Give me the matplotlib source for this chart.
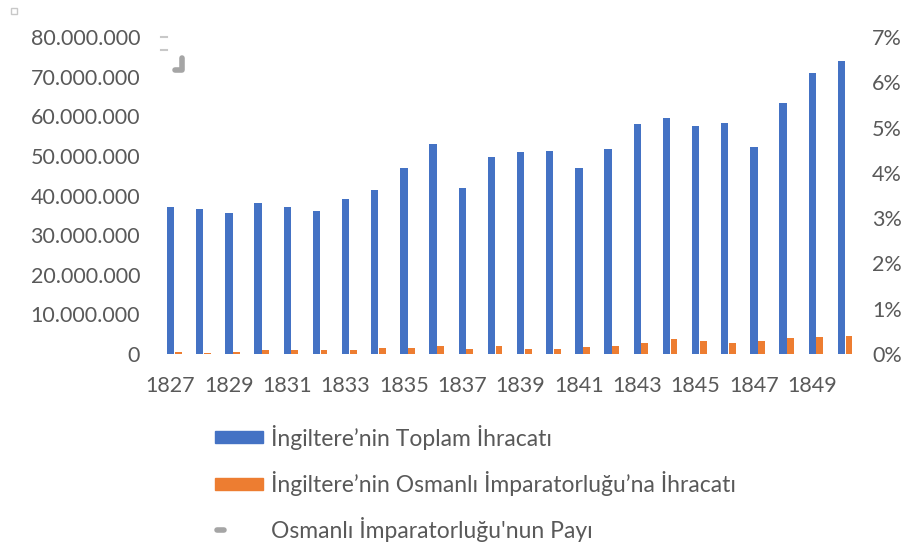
import numpy as np
import matplotlib.pyplot as plt
import matplotlib.patches as patches
from matplotlib.ticker import FuncFormatter

years = list(range(1827, 1851))
total_exports = [37.0, 36.5, 35.5, 38.0, 37.0, 36.0, 39.2, 41.3, 47.0, 53.1,
                 41.8, 49.8, 51.1, 51.3, 47.0, 51.8, 58.1, 59.6, 57.6, 58.4,
                 52.3, 63.4, 70.9, 74.0]
ottoman_exports = [0.5, 0.25, 0.63, 1.08, 1.0, 1.08, 1.0, 1.43, 1.5, 1.93,
                   1.26, 1.93, 1.26, 1.26, 1.76, 2.1, 2.85, 3.7, 3.35, 2.77,
                   3.35, 4.1, 4.28, 4.5]
tick_years = list(range(1827, 1851, 2))
legend_labels = ["İngiltere’nin Toplam İhracatı",
                 "İngiltere’nin Osmanlı İmparatorluğu’na İhracatı",
                 "Osmanlı İmparatorluğu'nun Payı"]

BLUE = "#4472C4"
ORANGE = "#ED7D31"
GRAY = "#A5A5A5"
TXT = "#595959"

plt.rcParams["font.family"] = ["Lato", "DejaVu Sans"]

fig = plt.figure(figsize=(9.17, 5.48), dpi=100)
W, H = 917, 548
ax = fig.add_axes([156 / W, 1 - 354 / H, 700 / W, (354 - 37) / H])

x = np.arange(len(years))
bw = 0.25
total = np.array(total_exports) * 1e6
ottoman = np.array(ottoman_exports) * 1e6
ax.bar(x, total, width=bw, color=BLUE)
ax.bar(x + bw + 0.01, ottoman, width=bw - 0.02, color=ORANGE)

ax.set_xlim(-0.5, len(years) - 0.5)
ax.set_ylim(0, 80e6)
ax.set_yticks(np.arange(0, 80e6 + 1, 10e6))
ax.yaxis.set_major_formatter(FuncFormatter(lambda v, p: f"{int(v):,}".replace(",", ".")))
ax.set_xticks([years.index(y) for y in tick_years])
ax.set_xticklabels([str(y) for y in tick_years])
for s in ax.spines.values():
    s.set_visible(False)
ax.tick_params(length=0, labelsize=15.5, colors=TXT)
ax.tick_params(axis="x", pad=16)
ax.tick_params(axis="y", pad=11.5)

ax2 = ax.twinx()
ax2.set_ylim(0, 0.07)
ax2.set_yticks(np.arange(0, 0.0701, 0.01))
ax2.yaxis.set_major_formatter(FuncFormatter(lambda v, p: f"{round(v * 100)}%"))
for s in ax2.spines.values():
    s.set_visible(False)
ax2.tick_params(length=0, labelsize=15.5, colors=TXT, pad=11.5)

# legend drawn by hand below the chart
lx = 215 / W
rows = [437, 484, 530]
fig.patches.append(patches.Rectangle((lx, 1 - (rows[0] + 6) / H), 48 / W, 12 / H,
                                     transform=fig.transFigure, color=BLUE))
fig.patches.append(patches.Rectangle((lx, 1 - (rows[1] + 6) / H), 48 / W, 12 / H,
                                     transform=fig.transFigure, color=ORANGE))
fig.lines.append(plt.Line2D([lx + 2 / W, lx + 9 / W], [1 - rows[2] / H] * 2,
                            transform=fig.transFigure, color=GRAY, lw=4,
                            solid_capstyle="round"))
for lab, r in zip(legend_labels, rows):
    fig.text(271 / W, 1 - r / H, lab, fontsize=16.5, color=TXT, va="center", ha="left")

# small leftover marks in the top-left corner
fig.patches.append(patches.Rectangle((11 / W, 1 - 14 / H), 6 / W, 6 / H,
                                     transform=fig.transFigure, fill=False,
                                     edgecolor="#C8C8C8", lw=1))
for yy in [37, 50]:
    fig.lines.append(plt.Line2D([161 / W, 167 / W], [1 - yy / H] * 2,
                                transform=fig.transFigure, color="#C8C8C8", lw=1.5))
fig.lines.append(plt.Line2D([182 / W, 182 / W, 175 / W], [1 - 58 / H, 1 - 70 / H, 1 - 70 / H],
                            transform=fig.transFigure, color=GRAY, lw=4,
                            solid_capstyle="round", solid_joinstyle="round"))

fig.savefig("out.png", dpi=100)
